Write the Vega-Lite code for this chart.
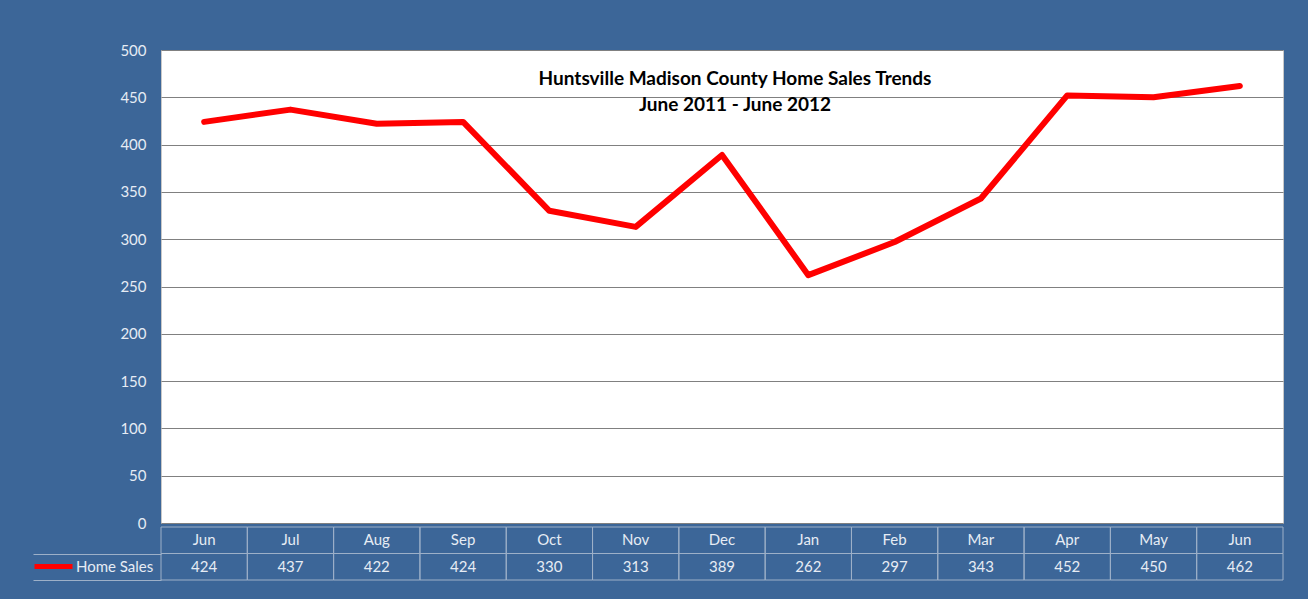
{
  "$schema": "https://vega.github.io/schema/vega-lite/v6.json",
  "background": "#3C6698",
  "padding": {"left": 32, "top": 42, "right": 26, "bottom": 19},
  "spacing": 4,
  "bounds": "flush",
  "config": {"font": "Lato", "view": {"stroke": null}},
  "datasets": {
    "sales": [
      {"key": "2011-06", "month": "Jun", "sales": 424},
      {"key": "2011-07", "month": "Jul", "sales": 437},
      {"key": "2011-08", "month": "Aug", "sales": 422},
      {"key": "2011-09", "month": "Sep", "sales": 424},
      {"key": "2011-10", "month": "Oct", "sales": 330},
      {"key": "2011-11", "month": "Nov", "sales": 313},
      {"key": "2011-12", "month": "Dec", "sales": 389},
      {"key": "2012-01", "month": "Jan", "sales": 262},
      {"key": "2012-02", "month": "Feb", "sales": 297},
      {"key": "2012-03", "month": "Mar", "sales": 343},
      {"key": "2012-04", "month": "Apr", "sales": 452},
      {"key": "2012-05", "month": "May", "sales": 450},
      {"key": "2012-06", "month": "Jun", "sales": 462}
    ]
  },
  "vconcat": [
    {
      "width": 1122,
      "height": 473,
      "data": {"name": "sales"},
      "view": {"fill": "#ffffff", "stroke": "#c8c8c8"},
      "title": {
        "text": ["Huntsville Madison County Home Sales Trends", "June 2011 - June 2012"],
        "font": "Lato",
        "fontWeight": "bold",
        "fontSize": 19,
        "color": "#000000",
        "lineHeight": 26,
        "anchor": "middle",
        "dx": 13,
        "offset": -72
      },
      "mark": {"type": "line", "strokeWidth": 6, "strokeJoin": "round", "strokeCap": "round"},
      "encoding": {
        "x": {"field": "key", "type": "nominal", "sort": null, "axis": null},
        "y": {
          "field": "sales",
          "type": "quantitative",
          "scale": {"domain": [0, 500]},
          "axis": {
            "values": [0, 50, 100, 150, 200, 250, 300, 350, 400, 450, 500],
            "grid": true,
            "gridColor": "#808080",
            "gridWidth": 1,
            "domain": false,
            "ticks": false,
            "labelColor": "#E6ECF4",
            "labelFontSize": 15,
            "labelPadding": 15,
            "title": null,
            "minExtent": 128,
            "maxExtent": 128
          }
        },
        "color": {
          "datum": "Home Sales",
          "scale": {"range": ["#FF0000"]},
          "legend": {
            "orient": "none",
            "legendX": -129,
            "legendY": 495,
            "title": null,
            "padding": 0,
            "symbolType": "stroke",
            "symbolStrokeWidth": 5,
            "symbolSize": 1444,
            "labelOffset": 1,
            "labelColor": "#E6ECF4",
            "labelFontSize": 15,
            "labelFont": "Lato"
          }
        }
      }
    },
    {
      "width": 1122,
      "height": 53,
      "data": {"name": "sales"},
      "layer": [
        {
          "mark": {"type": "rect", "fill": "transparent", "stroke": "#9DB0C8", "strokeWidth": 1},
          "encoding": {
            "x": {"field": "key", "type": "nominal", "sort": null, "scale": {"paddingInner": 0, "paddingOuter": 0}, "axis": null},
            "y": {
              "datum": "m",
              "type": "nominal",
              "scale": {"domain": ["m", "v"], "paddingInner": 0, "paddingOuter": 0},
              "axis": {
                "title": null,
                "labels": false,
                "domain": false,
                "ticks": true,
                "values": ["v"],
                "tickBand": "extent",
                "tickSize": 128,
                "tickColor": "#9DB0C8",
                "minExtent": 128,
                "maxExtent": 128
              }
            }
          }
        },
        {
          "mark": {"type": "rect", "fill": "transparent", "stroke": "#9DB0C8", "strokeWidth": 1},
          "encoding": {
            "x": {"field": "key", "type": "nominal", "sort": null},
            "y": {"datum": "v", "type": "nominal"}
          }
        },
        {
          "mark": {"type": "text", "color": "#E6ECF4", "fontSize": 15, "align": "center", "baseline": "middle"},
          "encoding": {
            "x": {"field": "key", "type": "nominal", "sort": null},
            "y": {"datum": "m", "type": "nominal"},
            "text": {"field": "month"}
          }
        },
        {
          "mark": {"type": "text", "color": "#E6ECF4", "fontSize": 15, "align": "center", "baseline": "middle"},
          "encoding": {
            "x": {"field": "key", "type": "nominal", "sort": null},
            "y": {"datum": "v", "type": "nominal"},
            "text": {"field": "sales"}
          }
        }
      ]
    }
  ]
}
